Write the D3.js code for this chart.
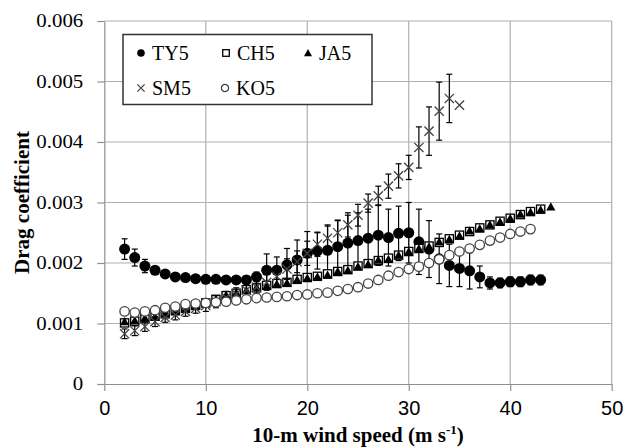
<!DOCTYPE html>
<html lang="en">
<head>
<meta charset="UTF-8">
<title>Drag coefficient vs wind speed</title>
<script src="https://d3js.org/d3.v7.min.js"></script>
<style>
  body { margin: 0; background: #fff; }
  svg { display: block; }
  .serif { font-family: "Liberation Serif", "DejaVu Serif", serif; }
  .sans { font-family: "Liberation Sans", "DejaVu Sans", sans-serif; }
</style>
</head>
<body>
<div id="chart"></div>
<script>
// wind speed bins (m/s)
const speeds = [2,3,4,5,6,7,8,9,10,11,12,13,14,15,16,17,18,19,20,21,22,23,24,25,26,27,28,29,30,31,32,33,34,35,36,37,38,39,40,41,42,43,44];

const ty5 = [0.00223,0.00209,0.00195,0.00188,0.00182,0.00177,0.00176,0.00174,0.00173,0.00173,0.00172,0.00172,0.00172,0.00177,0.00188,0.00188,0.00197,0.00205,0.00216,0.0022,0.00221,0.00227,0.00233,0.00237,0.00241,0.00246,0.00242,0.00249,0.0025,0.00235,0.00223,0.00207,0.00196,0.00191,0.00187,0.00177,0.00167,0.00167,0.00169,0.00169,0.00172,0.00172];
const ty5Err = [0.00017,0.00014,0.00011,0.00006,0.00004,0.00003,0.00003,0.00003,0.00003,0.00003,0.00003,0.00004,0.00006,0.00008,0.00027,0.00022,0.00027,0.00033,0.00036,0.0003,0.00042,0.00044,0.00046,0.00046,0.00048,0.0005,0.00047,0.00045,0.0005,0.00054,0.00047,0.00041,0.00035,0.0003,0.0003,0.00018,0.0001,0.00008,0.00008,0.00008,0.00008,0.00008];

const ch5 = [0.00101,0.00104,0.00108,0.00112,0.00116,0.00121,0.00125,0.0013,0.00134,0.0014,0.00146,0.0015,0.00156,0.00159,0.00163,0.00166,0.00168,0.00173,0.00176,0.00178,0.00182,0.00186,0.00189,0.00195,0.00199,0.00204,0.00208,0.00213,0.00219,0.00224,0.00228,0.00234,0.0024,0.00246,0.00252,0.00258,0.00263,0.00269,0.00274,0.0028,0.00285,0.00289];

const ja5 = [0.00103,0.00105,0.00109,0.00111,0.00117,0.0012,0.00125,0.00129,0.00133,0.0014,0.00147,0.00151,0.00155,0.0016,0.00162,0.00165,0.00167,0.00172,0.00175,0.00177,0.0018,0.00186,0.00188,0.00194,0.00198,0.00205,0.00206,0.00213,0.00219,0.00224,0.00227,0.00235,0.00239,0.00245,0.00253,0.00257,0.00263,0.00268,0.00274,0.00281,0.00284,0.00288,0.00293];

const sm5 = [0.00083,0.00088,0.00095,0.00103,0.0011,0.00114,0.0012,0.00125,0.0013,0.00136,0.00143,0.00149,0.00155,0.0016,0.00168,0.00178,0.0019,0.00202,0.00216,0.00231,0.00241,0.0025,0.00263,0.00279,0.00299,0.00311,0.00327,0.00344,0.00358,0.00391,0.00418,0.00451,0.00472,0.00461];
const sm5Err = [0.00008,0.00008,0.00008,0.00008,0.00008,0.00008,0.00008,0.00008,0.0001,0.0001,0.0001,0.0001,0.0001,0.0001,0.00013,0.00015,0.00017,0.00018,0.0002,0.0002,0.0002,0.0002,0.0002,0.00018,0.00015,0.00016,0.0002,0.0002,0.0002,0.00034,0.0004,0.00048,0.0004,0];

const ko5 = [0.0012,0.00118,0.0012,0.00122,0.00126,0.00128,0.00132,0.00133,0.00134,0.00135,0.00136,0.00138,0.0014,0.00142,0.00143,0.00144,0.00145,0.00147,0.00148,0.0015,0.00151,0.00154,0.00157,0.0016,0.00166,0.00172,0.00179,0.00185,0.0019,0.00194,0.002,0.00206,0.00213,0.00219,0.00224,0.0023,0.00237,0.00242,0.00248,0.00252,0.00256];

const xTicks = [0,10,20,30,40,50];
const yTicks = [0,0.001,0.002,0.003,0.004,0.005,0.006];

const W = 625, H = 447;
const svg = d3.select("#chart").append("svg")
  .attr("width", W).attr("height", H);

const x = d3.scaleLinear().domain([0, 50]).range([104.3, 611.7]);
const y = d3.scaleLinear().domain([0, 0.006]).range([384, 21]);

// grid
const grid = svg.append("g").attr("stroke", "#b0b0b0").attr("stroke-width", 1.2);
grid.selectAll(".hg").data(yTicks.slice(1)).enter().append("line")
  .attr("x1", x(0)).attr("x2", x(50))
  .attr("y1", d => y(d)).attr("y2", d => y(d));
grid.selectAll(".vg").data(xTicks.slice(1)).enter().append("line")
  .attr("y1", y(0)).attr("y2", y(0.006))
  .attr("x1", d => x(d)).attr("x2", d => x(d));

// axes
const yAxis = svg.append("g")
  .attr("transform", `translate(${x(0)},0)`)
  .call(d3.axisLeft(y).tickValues(yTicks).tickSize(7).tickSizeOuter(0).tickPadding(14)
    .tickFormat(d => d === 0 ? "0" : d3.format(".3f")(d)));
yAxis.attr("font-family", null);
yAxis.selectAll("line, path").attr("stroke", "#8f8f8f").attr("stroke-width", 1.2);
yAxis.selectAll("text")
  .attr("class", "serif")
  .attr("font-size", 18).attr("fill", "#000")
  .attr("x", -21 / 1.16)
  .attr("transform", "scale(1.16,1)");

const xAxis = svg.append("g")
  .attr("transform", `translate(0,${y(0)})`)
  .call(d3.axisBottom(x).tickValues(xTicks).tickSize(7).tickSizeOuter(0).tickPadding(10));
xAxis.attr("font-family", null);
xAxis.selectAll("line, path").attr("stroke", "#8f8f8f").attr("stroke-width", 1.2);
xAxis.selectAll("text")
  .attr("class", "sans")
  .attr("font-size", 20).attr("fill", "#000");

// axis titles
svg.append("text")
  .attr("class", "serif")
  .attr("transform", `translate(29,${(y(0) + y(0.006)) / 2}) rotate(-90)`)
  .attr("text-anchor", "middle")
  .attr("font-weight", "bold").attr("font-size", 21)
  .text("Drag coefficient");

const xt = svg.append("text")
  .attr("class", "serif")
  .attr("x", (x(0) + x(50)) / 2).attr("y", 442)
  .attr("text-anchor", "middle")
  .attr("font-weight", "bold").attr("font-size", 21);
xt.append("tspan").text("10-m wind speed (m s");
xt.append("tspan").attr("font-size", 13).attr("dy", -8).text("-1");
xt.append("tspan").attr("dy", 8).text(")");

// marker shapes
const shapes = {
  dot: (g, r) => g.append("circle").attr("r", r).attr("fill", "#000"),
  square: (g, r) => g.append("rect").attr("x", -r + 0.5).attr("y", -r + 0.5)
    .attr("width", 2 * r - 1).attr("height", 2 * r - 1)
    .attr("fill", "#fff").attr("stroke", "#000").attr("stroke-width", 1.3),
  tri: (g, r) => g.append("path")
    .attr("d", `M0,${-r}L${r},${r * 0.8}L${-r},${r * 0.8}Z`).attr("fill", "#000"),
  cross: (g, r) => g.append("path")
    .attr("d", `M${-r},${-r}L${r},${r}M${-r},${r}L${r},${-r}`)
    .attr("stroke", "#444").attr("stroke-width", 1.3).attr("fill", "none"),
  ring: (g, r) => g.append("circle").attr("r", r - 0.6)
    .attr("fill", "#fff").attr("stroke", "#444").attr("stroke-width", 1.3)
};

function drawSeries(vals, errs, shape, r) {
  const pts = vals.map((v, i) => ({ s: speeds[i], v: v, e: errs ? errs[i] : 0 }));
  const g = svg.append("g");
  pts.filter(d => d.e > 0).forEach(d => {
    const eb = g.append("g").attr("stroke", "#000").attr("stroke-width", 1.2);
    const cx = x(d.s);
    eb.append("line").attr("x1", cx).attr("x2", cx).attr("y1", y(d.v - d.e)).attr("y2", y(d.v + d.e));
    eb.append("line").attr("x1", cx - 3).attr("x2", cx + 3).attr("y1", y(d.v - d.e)).attr("y2", y(d.v - d.e));
    eb.append("line").attr("x1", cx - 3).attr("x2", cx + 3).attr("y1", y(d.v + d.e)).attr("y2", y(d.v + d.e));
  });
  pts.forEach(d => {
    const m = g.append("g").attr("transform", `translate(${x(d.s)},${y(d.v)})`);
    shapes[shape](m, r);
  });
}

drawSeries(ty5, ty5Err, "dot", 5.5);
drawSeries(ch5, null, "square", 4.6);
drawSeries(ja5, null, "tri", 4.6);
drawSeries(sm5, sm5Err, "cross", 4.6);
drawSeries(ko5, null, "ring", 5.3);

// legend
const leg = svg.append("g");
leg.append("rect").attr("x", 123).attr("y", 34.5).attr("width", 249).attr("height", 70)
  .attr("fill", "#fff").attr("stroke", "#333").attr("stroke-width", 1.5);
const legItems = [
  { name: "TY5", shape: "dot", lx: 141, ly: 53, r: 3.8 },
  { name: "CH5", shape: "square", lx: 226, ly: 53, r: 3.8 },
  { name: "JA5", shape: "tri", lx: 308, ly: 53, r: 4 },
  { name: "SM5", shape: "cross", lx: 141, ly: 88, r: 3.6 },
  { name: "KO5", shape: "ring", lx: 225, ly: 88, r: 4.2 }
];
legItems.forEach(d => {
  const m = leg.append("g").attr("transform", `translate(${d.lx},${d.ly})`);
  shapes[d.shape](m, d.r);
  leg.append("text").attr("class", "serif")
    .attr("x", d.lx + 11).attr("y", d.ly + 7)
    .attr("font-size", 20).attr("fill", "#000")
    .text(d.name);
});
</script>
</body>
</html>
